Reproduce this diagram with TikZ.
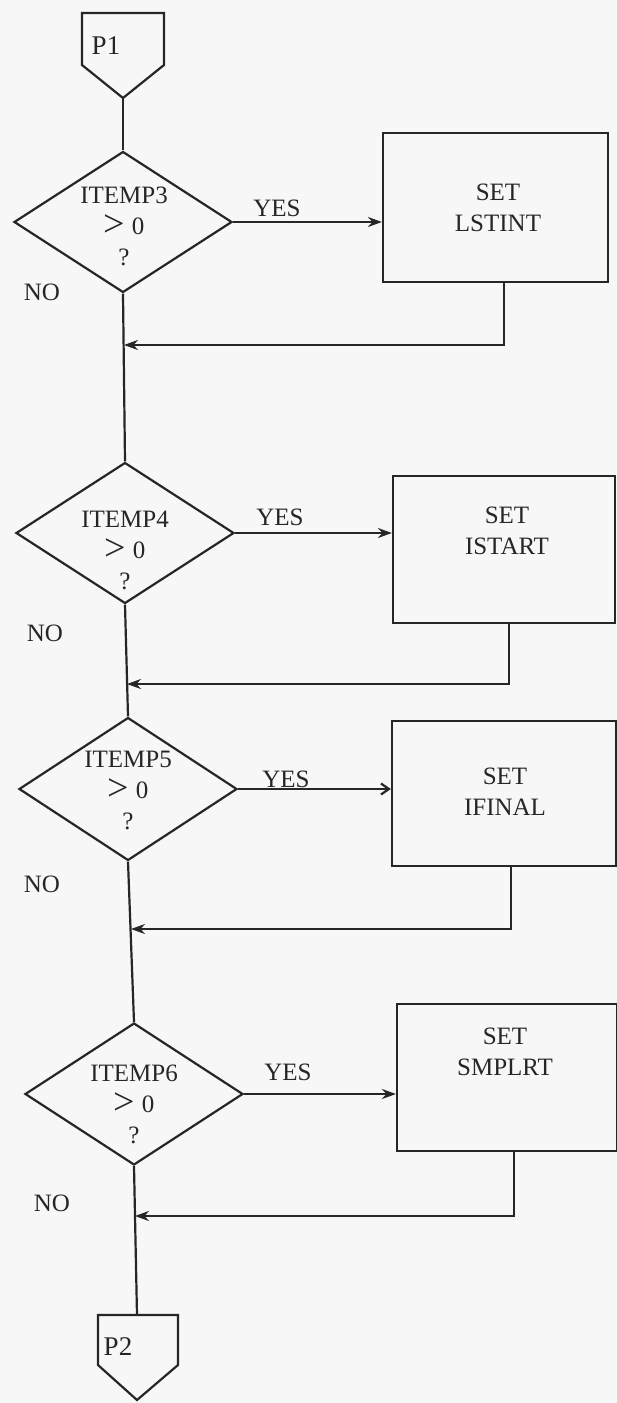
\documentclass[tikz,border=0pt]{standalone}
\usepackage{fontspec}
\setmainfont{Liberation Serif}
\usetikzlibrary{arrows.meta,shapes.geometric}
\begin{document}
\begin{tikzpicture}[x=1pt,y=-1pt,
  ln/.style={line width=2.2pt,draw=black!85},
  arr/.style={ln,-{Stealth[length=14pt,width=10pt]}},
  oarr/.style={ln,-{Straight Barb[length=8pt,width=11pt]}},
  dec/.style={diamond,ln,minimum width=218pt,minimum height=141pt,inner sep=0pt},
  stepbox/.style={rectangle,ln,inner sep=0pt},
  lbl/.style={font=\fontsize{25}{31}\selectfont,align=center,inner sep=0pt,text=black!85},
]
\fill[black!3] (0,0) rectangle (617,1403);
\useasboundingbox (0,0) rectangle (617,1403);
\newcommand{\gtz}{{\fontsize{38}{30}\selectfont\raisebox{-2pt}{>}}\hspace{7pt}0}

% off-page connectors
\draw[ln] (82,13) -- (164,13) -- (164,65) -- (123,98) -- (82,65) -- cycle;
\coordinate (p1tip) at (123,98);
\node[lbl,font=\fontsize{27}{30}\selectfont] (p1t) at (106,46) {P1};
\draw[ln] (98,1315) -- (178,1315) -- (178,1365) -- (137,1400) -- (98,1365) -- cycle;
\coordinate (p2top) at (137,1315);
\node[lbl,font=\fontsize{27}{30}\selectfont] (p2t) at (118,1347) {P2};

% decisions
\node[dec] (d1) at (123,222) {};
\node[dec] (d2) at (125,533) {};
\node[dec,minimum height=143pt] (d3) at (128,789) {};
\node[dec,minimum height=142pt] (d4) at (134,1094) {};
\node[lbl] (d1t) at (124,226) {ITEMP3\\\gtz\\?};
\node[lbl] (d2t) at (125,550) {ITEMP4\\\gtz\\?};
\node[lbl] (d3t) at (128,790) {ITEMP5\\\gtz\\?};
\node[lbl] (d4t) at (134,1104) {ITEMP6\\\gtz\\?};

% process boxes
\node[stepbox,minimum width=225pt,minimum height=149pt] (b1) at (495.5,207.5) {};
\node[stepbox,minimum width=222pt,minimum height=147pt] (b2) at (504,549.5) {};
\node[stepbox,minimum width=224pt,minimum height=145pt] (b3) at (504,793.5) {};
\node[stepbox,minimum width=220pt,minimum height=147pt] (b4) at (507,1077.5) {};
\node[lbl] (b1t) at (498,208) {SET\\LSTINT};
\node[lbl] (b2t) at (507,531) {SET\\ISTART};
\node[lbl] (b3t) at (505,792) {SET\\IFINAL};
\node[lbl] (b4t) at (505,1052) {SET\\SMPLRT};

% YES / NO labels
\node[lbl] (y1) at (277,208) {YES};
\node[lbl] (y2) at (280,517) {YES};
\node[lbl] (y3) at (286,779) {YES};
\node[lbl] (y4) at (288,1072) {YES};
\node[lbl] (n1) at (42,292) {NO};
\node[lbl] (n2) at (45,633) {NO};
\node[lbl] (n3) at (42,884) {NO};
\node[lbl] (n4) at (52,1203) {NO};

% YES arrows
\draw[arr] (d1.east) -- (d1.east -| b1.west);
\draw[arr] (d2.east) -- (d2.east -| b2.west);
\draw[oarr] (d3.east) -- (d3.east -| b3.west);
\draw[arr] (d4.east) -- (d4.east -| b4.west);

% main line
\draw[ln] (p1tip) -- (d1.north);
\draw[ln] (d1.south) -- (d2.north);
\draw[ln] (d2.south) -- (d3.north);
\draw[ln] (d3.south) -- (d4.north);
\draw[ln] (d4.south) -- (p2top);

% returns
\coordinate (j1) at (124,345);
\coordinate (j2) at (127,684);
\coordinate (j3) at (131,929);
\coordinate (j4) at (135,1216);
\draw[arr] ([xshift=122pt]b1.south west) |- (j1);
\draw[arr] ([xshift=117pt]b2.south west) |- (j2);
\draw[arr] ([xshift=120pt]b3.south west) |- (j3);
\draw[arr] ([xshift=118pt]b4.south west) |- (j4);
\end{tikzpicture}
\end{document}
